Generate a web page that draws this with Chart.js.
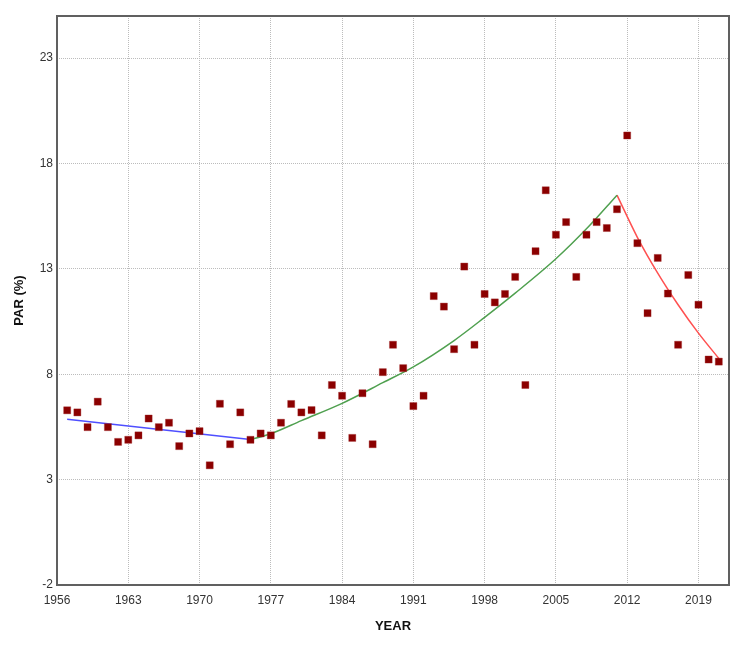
<!DOCTYPE html>
<html>
<head>
<meta charset="utf-8">
<script src="https://cdn.jsdelivr.net/npm/chart.js@4/dist/chart.umd.min.js"></script>
<style>
 body { margin: 0; background: #fff; }
 canvas { display: block; }
</style>
</head>
<body>
<canvas id="parChart" width="750" height="646"></canvas>
<script>
// yearly observations
const years = [
 1957, 1958, 1959, 1960, 1961, 1962, 1963, 1964, 1965, 1966, 1967, 1968, 1969,
 1970, 1971, 1972, 1973, 1974, 1975, 1976, 1977, 1978, 1979, 1980, 1981, 1982,
 1983, 1984, 1985, 1986, 1987, 1988, 1989, 1990, 1991, 1992, 1993, 1994, 1995,
 1996, 1997, 1998, 1999, 2000, 2001, 2002, 2003, 2004, 2005, 2006, 2007, 2008,
 2009, 2010, 2011, 2012, 2013, 2014, 2015, 2016, 2017, 2018, 2019, 2020, 2021
];
const parValues = [
 6.29, 6.19, 5.49, 6.70, 5.49, 4.79, 4.89, 5.10, 5.90, 5.49, 5.70, 4.59, 5.19,
 5.30, 3.68, 6.60, 4.68, 6.19, 4.89, 5.19, 5.10, 5.70, 6.59, 6.19, 6.30, 5.10,
 7.49, 6.98, 4.98, 7.10, 4.68, 8.10, 9.40, 8.29, 6.49, 6.98, 11.71, 11.21, 9.19,
 13.11, 9.40, 11.81, 11.41, 11.81, 12.62, 7.49, 13.84, 16.73, 14.62, 15.22, 12.62, 14.62,
 15.22, 14.94, 15.83, 19.33, 14.22, 10.90, 13.52, 11.83, 9.40, 12.71, 11.30, 8.70, 8.60
];

// trend segments
const blueYears = [1957, 1975];
const blueValues = [5.86, 4.90];
const greenYears = [1975, 1977, 1980, 1984, 1988, 1991, 1995, 1998, 2001, 2005, 2008, 2011];
const greenValues = [4.90, 5.18, 5.80, 6.62, 7.60, 8.35, 9.60, 10.70, 11.85, 13.48, 14.90, 16.50];
const redYears = [2011, 2013, 2015, 2017, 2019, 2021];
const redValues = [16.50, 14.50, 12.80, 11.30, 9.95, 8.75];

// axis ticks
const xTicks = [1956, 1963, 1970, 1977, 1984, 1991, 1998, 2005, 2012, 2019];
const yTicks = [-2, 3, 8, 13, 18, 23];

function toPoints(xs, ys) {
 return xs.map((x, i) => ({ x: x, y: ys[i] }));
}

// plot frame round the chart area
const frame = {
 id: 'frame',
 afterDraw(chart) {
  const a = chart.chartArea;
  const ctx = chart.ctx;
  ctx.save();
  ctx.strokeStyle = '#606060';
  ctx.lineWidth = 2;
  ctx.strokeRect(a.left, a.top, a.right - a.left, a.bottom - a.top);
  ctx.restore();
 }
};

const tickFont = { family: 'Liberation Sans, Arial, sans-serif', size: 12 };
const titleFont = { family: 'Liberation Sans, Arial, sans-serif', size: 13, weight: 'bold' };

new Chart(document.getElementById('parChart'), {
 type: 'scatter',
 data: {
  datasets: [
   {
    data: toPoints(years, parValues),
    pointStyle: 'rect',
    pointRadius: 5,
    backgroundColor: '#8b0000',
    borderColor: 'rgba(160,40,40,0.35)',
    borderWidth: 1
   },
   {
    data: toPoints(blueYears, blueValues),
    showLine: true,
    pointRadius: 0,
    borderColor: '#4f4fff',
    borderWidth: 1.5
   },
   {
    data: toPoints(greenYears, greenValues),
    showLine: true,
    pointRadius: 0,
    cubicInterpolationMode: 'monotone',
    borderColor: '#4fa04f',
    borderWidth: 1.5
   },
   {
    data: toPoints(redYears, redValues),
    showLine: true,
    pointRadius: 0,
    cubicInterpolationMode: 'monotone',
    borderColor: '#ff5050',
    borderWidth: 1.5
   }
  ]
 },
 options: {
  responsive: false,
  animation: false,
  layout: { padding: { top: 16, right: 21, left: 0, bottom: 0 } },
  plugins: { legend: { display: false }, tooltip: { enabled: false } },
  scales: {
   x: {
    type: 'linear',
    min: 1956,
    max: 2022,
    afterBuildTicks: (s) => { s.ticks = xTicks.map(v => ({ value: v })); },
    afterFit: (s) => { s.height = 61; },
    grid: { color: '#bcbcbc', drawTicks: false },
    border: { display: false, dash: [1, 1] },
    ticks: { font: tickFont, color: '#333', padding: 8, maxRotation: 0, callback: (v) => v },
    title: { display: true, text: 'YEAR', font: titleFont, color: '#111', padding: { top: 0, bottom: 12 } }
   },
   y: {
    min: -2,
    max: 25,
    afterBuildTicks: (s) => { s.ticks = yTicks.map(v => ({ value: v })); },
    afterFit: (s) => { s.width = 57; },
    grid: { color: '#bcbcbc', drawTicks: false },
    border: { display: false, dash: [1, 1] },
    ticks: { font: tickFont, color: '#333', padding: 4 },
    title: { display: true, text: 'PAR (%)', font: titleFont, color: '#111', padding: { top: 12, bottom: 0 } }
   }
  }
 },
 plugins: [frame]
});
</script>
</body>
</html>
